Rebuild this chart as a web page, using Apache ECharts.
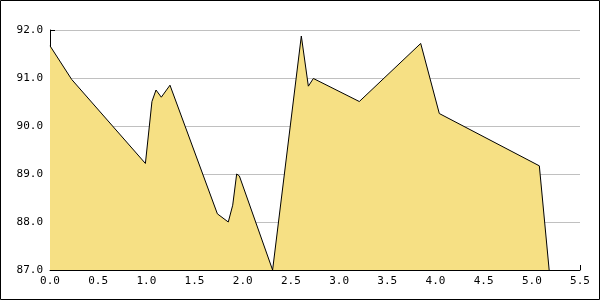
<!DOCTYPE html>
<html><head><meta charset="utf-8">
<script src="https://cdn.jsdelivr.net/npm/echarts@6/dist/echarts.min.js"></script>
<style>html,body{margin:0;padding:0;background:#fff}#c{width:600px;height:300px}</style>
</head><body><div id="c"></div>
<script>
const xValues = [0, 0.225, 0.99, 1.058, 1.10, 1.155, 1.245, 1.737, 1.85, 1.896, 1.937, 1.965, 2.31, 2.608, 2.681, 2.733, 3.21, 3.847, 4.04, 5.078, 5.18];
const yValues = [91.67, 90.97, 89.22, 90.51, 90.75, 90.60, 90.85, 88.17, 88.0, 88.35, 89.0, 88.96, 87.0, 91.875, 90.83, 90.99, 90.51, 91.72, 90.26, 89.17, 87.0];
const xRange = [0, 5.5, 0.5];
const yRange = [87, 92, 1];

const data = xValues.map((x, i) => [x, yValues[i]]);
const font = 'DejaVu Sans Mono';
const chart = echarts.init(document.getElementById('c'), null, {renderer: 'canvas'});
chart.setOption({
  animation: false,
  backgroundColor: '#fff',
  grid: {left: 50, right: 20, top: 30, bottom: 30},
  graphic: [{type: 'rect', shape: {x: 0.5, y: 0.5, width: 599, height: 299}, style: {fill: 'none', stroke: '#000', lineWidth: 1}, z: 100}],
  xAxis: {
    type: 'value', min: xRange[0], max: xRange[1], interval: xRange[2],
    axisLine: {show: true, onZero: false, lineStyle: {color: '#000', width: 1}},
    axisTick: {show: true, inside: true, length: 5, lineStyle: {color: '#000'}},
    axisLabel: {color: '#000', fontFamily: font, fontSize: 11, margin: 6, formatter: v => v.toFixed(1)},
    splitLine: {show: false}
  },
  yAxis: {
    type: 'value', min: yRange[0], max: yRange[1], interval: yRange[2],
    axisLine: {show: true, onZero: false, lineStyle: {color: '#000', width: 1}},
    axisTick: {show: true, inside: true, length: 5, lineStyle: {color: '#000'}},
    minorTick: {show: true, splitNumber: 2, length: 5, lineStyle: {color: '#000'}},
    axisLabel: {color: '#000', fontFamily: font, fontSize: 11, margin: 7, formatter: v => v.toFixed(1)},
    splitLine: {show: true, lineStyle: {color: '#c0c0c0', width: 1}}
  },
  series: [{
    type: 'line', data: data, showSymbol: false, symbol: 'none',
    lineStyle: {color: '#000', width: 1},
    areaStyle: {color: '#f6e084', opacity: 1, origin: 'start'},
    z: 2
  }]
});
</script></body></html>
